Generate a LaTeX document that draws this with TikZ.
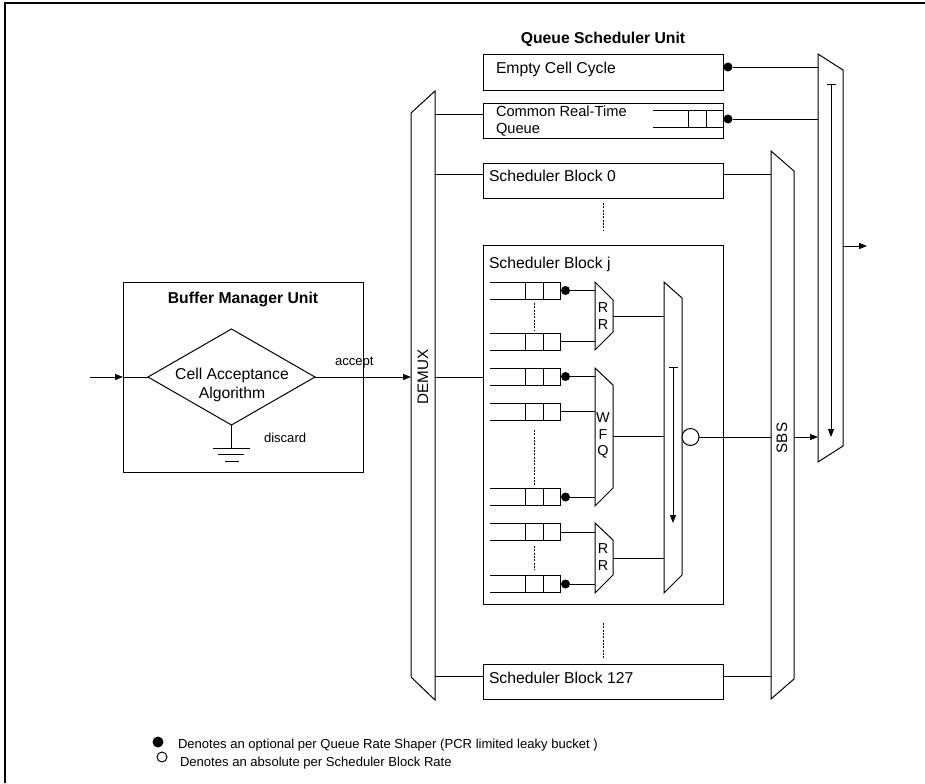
\documentclass[tikz,border=0pt]{standalone}
\usepackage{fontspec}
\setmainfont{Liberation Sans}
\usetikzlibrary{arrows.meta,shapes.geometric}
\begin{document}
\begin{tikzpicture}[x=0.75pt,y=-0.75pt,line width=0.75pt,
  every node/.style={inner sep=0pt,outer sep=0pt},
  box/.style={draw,rectangle,minimum width=180pt},
  lbl/.style={font=\fontsize{11.8}{14}\selectfont,anchor=base west},
  lbs/.style={font=\fontsize{11}{13}\selectfont,anchor=base west},
  ttl/.style={font=\bfseries\fontsize{11.8}{14}\selectfont,anchor=base},
  sml/.style={font=\fontsize{9.8}{12}\selectfont,anchor=base west},
  mxl/.style={font=\fontsize{10.8}{12}\selectfont},
  rot/.style={font=\fontsize{11.4}{13}\selectfont,rotate=90},
  dot/.style={circle,fill,minimum size=6.75pt},
  odot/.style={circle,draw,fill=white,minimum size=12.75pt},
  arr/.style={-{Triangle[length=6pt,width=4.5pt]}},
  dsh/.style={dash pattern=on 1.5pt off 1pt,line width=0.5pt},
  queue/.pic={\draw (-70,-8.5) -- (0,-8.5) -- (0,8.5) -- (-70,8.5);
              \draw (-35,-8.5) -- (-35,8.5) (-17,-8.5) -- (-17,8.5);
              \coordinate (-out) at (0,0);}
]
\useasboundingbox (0,0) rectangle (925,783);
% frame
\draw[line width=1.5pt] (5,783) -- (5,3) -- (925,3);

% ---------------- Queue Scheduler Unit
\node[ttl] (qsu) at (603,43) {Queue Scheduler Unit};

\node[box,minimum height=27pt] (ecc) at (603,72) {};
\node[lbl] at (496,73) {Empty Cell Cycle};
\node[dot] (eccdot) at (728,67) {};

\node[box,minimum height=26.25pt] (crtq) at (603,120.5) {};
\node[lbs] at (496,116.5) {Common Real-Time};
\node[lbs] at (496,133) {Queue};
\pic (cq) at (723,118.5) {queue};
\node[dot] (crtqdot) at (728,119) {};

\node[box,minimum height=26.25pt] (sb0) at (603,180.5) {};
\node[lbl] at (489,181) {Scheduler Block 0};

\node[box,minimum height=269.25pt] (sbj) at (603,424.5) {};
\node[lbl] at (489,268) {Scheduler Block j};

\node[box,minimum height=26.25pt] (sb127) at (603,681.5) {};
\node[lbl] at (489,683) {Scheduler Block 127};

\draw[dsh] (603,203) -- (603,231);
\draw[dsh] (603,623) -- (603,658);

% ---------------- Buffer Manager Unit
\node[box,minimum height=142.5pt] (bmu) at (243,377) {};
\node[ttl] at (243,303) {Buffer Manager Unit};
\node[diamond,draw,minimum width=125.25pt,minimum height=72pt] (caa) at (231.5,377) {};
\node[font=\fontsize{11.8}{14}\selectfont,anchor=base] at (232,379) {Cell Acceptance};
\node[font=\fontsize{11.8}{14}\selectfont,anchor=base] at (232,398) {Algorithm};
\coordinate (src) at (90,377);
\draw[arr] (src) -- (bmu.west);
\draw (bmu.west) -- (caa.west);
\coordinate (dmxin) at (411,377);
\draw[arr] (caa.east) -- (dmxin);
\node[sml] at (335,365) {accept};
\coordinate (gnd) at (231.5,448);
\draw (caa.south) -- (gnd);
\draw (213,448) -- (250,448) (218,454) -- (244,454) (225,461) -- (239,461);
\node[sml] at (264,442) {discard};

% ---------------- DEMUX
\draw (411,113) -- (435,91) -- (435,700) -- (411,677) -- cycle;
\node[rot] at (423,377) {DEMUX};
\coordinate (dm1) at (435,114);
\coordinate (dm2) at (435,174);
\coordinate (dm3) at (435,377);
\coordinate (dm4) at (435,676);
\draw (dm1) -- (dm1 -| crtq.west);
\draw (dm2) -- (dm2 -| sb0.west);
\draw (dm3) -- (dm3 -| sbj.west);
\draw (dm4) -- (dm4 -| sb127.west);

% ---------------- SBS
\draw (771,151) -- (794,171) -- (794,679) -- (771,699) -- cycle;
\node[rot] at (782,438) {SBS};
\coordinate (sbs1) at (771,174);
\coordinate (sbs2) at (771,437);
\coordinate (sbs3) at (771,676);
\draw (sbs1 -| sb0.east) -- (sbs1);
\draw (sbs3 -| sb127.east) -- (sbs3);

% ---------------- output mux
\draw (818,54) -- (843,70) -- (843,446) -- (818,462) -- cycle;
\coordinate (omL) at (818,0);
\draw[arr] (831,84) -- (831,437);
\draw (827,84) -- (836,84);
\draw (eccdot) -- (eccdot -| omL);
\draw (crtqdot) -- (crtqdot -| omL);
\coordinate (sbsout) at (794,437);
\draw[arr] (sbsout) -- (sbsout -| omL);
\coordinate (omout) at (843,246);
\coordinate (dst) at (867,246);
\draw[arr] (omout) -- (dst);

% ---------------- inside Scheduler Block j
\pic (q1) at (560,290.5) {queue};
\pic (q2) at (560,341.5) {queue};
\pic (q3) at (560,376.5) {queue};
\pic (q4) at (560,411.5) {queue};
\pic (q5) at (560,497) {queue};
\pic (q6) at (560,532) {queue};
\pic (q7) at (560,584) {queue};
\node[dot] (d1) at (565.5,290.5) {};
\node[dot] (d3) at (565.5,376.5) {};
\node[dot] (d5) at (565.5,497) {};
\node[dot] (d7) at (565.5,584) {};
\draw[dsh] (534,303) -- (534,330);
\draw[dsh] (534,430) -- (534,485);
\draw[dsh] (534,546) -- (534,570);

% RR1, WFQ, RR2
\draw (595,282) -- (613,300) -- (613,332) -- (595,350) -- cycle;
\node[mxl] at (603,308) {R};
\node[mxl] at (603,325) {R};
\draw (595,368) -- (613,385) -- (613,488) -- (595,506) -- cycle;
\node[mxl] at (603,418) {W};
\node[mxl] at (603,435) {F};
\node[mxl] at (603,452) {Q};
\draw (595,523) -- (613,540) -- (613,575) -- (595,593) -- cycle;
\node[mxl] at (603,549) {R};
\node[mxl] at (603,566) {R};
\coordinate (mxL) at (595,0);
\draw (d1) -- (d1 -| mxL);
\draw (q2-out) -- (q2-out -| mxL);
\draw (d3) -- (d3 -| mxL);
\draw (q4-out) -- (q4-out -| mxL);
\draw (d5) -- (d5 -| mxL);
\draw (q6-out) -- (q6-out -| mxL);
\draw (d7) -- (d7 -| mxL);

% priority mux
\draw (664,282) -- (682,298) -- (682,575) -- (664,593) -- cycle;
\coordinate (pmL) at (664,0);
\coordinate (rr1o) at (613,316);
\coordinate (wfqo) at (613,436);
\coordinate (rr2o) at (613,558);
\draw (rr1o) -- (rr1o -| pmL);
\draw (wfqo) -- (wfqo -| pmL);
\draw (rr2o) -- (rr2o -| pmL);
\draw[arr] (673,367) -- (673,523);
\draw (669,367) -- (678,367);
\node[odot] (circ) at (690.5,437) {};
\draw (circ) -- (sbs2);

% ---------------- legend
\node[circle,fill,minimum size=8.25pt] (ldot) at (158,742) {};
\node[sml] at (178,748) {Denotes an optional per Queue Rate Shaper (PCR limited leaky bucket )};
\node[circle,draw,minimum size=7.5pt] (lcirc) at (162,757) {};
\node[sml] at (180,766) {Denotes an absolute per Scheduler Block Rate};
\end{tikzpicture}
\end{document}
